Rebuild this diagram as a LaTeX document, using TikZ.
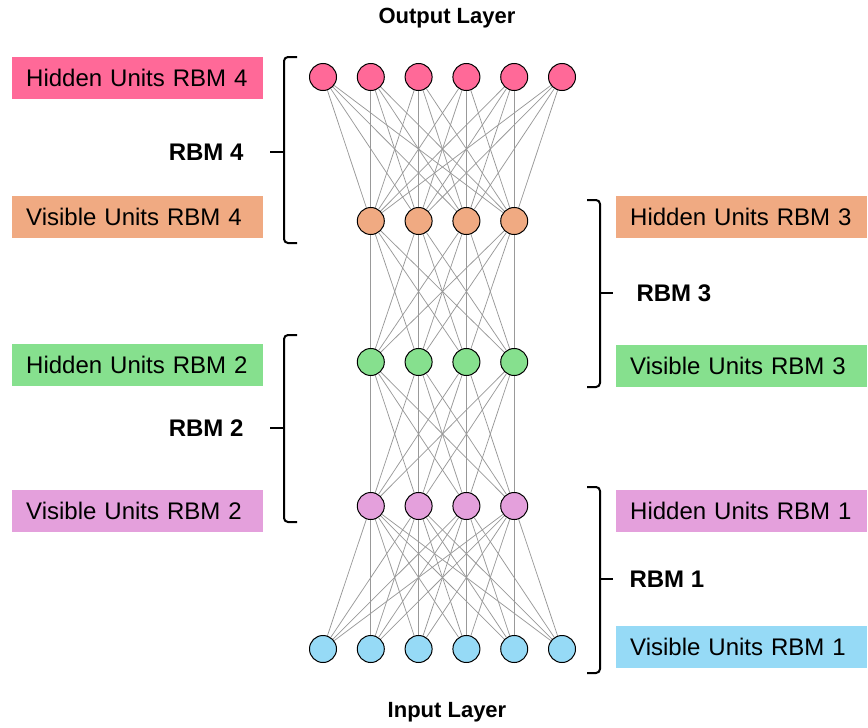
\documentclass[tikz,border=0pt]{standalone}
\usepackage{fontspec}
\setmainfont{Liberation Sans}
\usetikzlibrary{backgrounds}
\definecolor{rbmpink}{RGB}{255,105,152}
\definecolor{rbmsalmon}{RGB}{240,170,130}
\definecolor{rbmgreen}{RGB}{134,224,142}
\definecolor{rbmviolet}{RGB}{228,160,220}
\definecolor{rbmblue}{RGB}{150,218,246}
\tikzset{
  unit/.style={circle, draw=black, line width=1pt, minimum size=27pt, inner sep=0pt},
  link/.style={draw=gray!80, line width=0.75pt},
  tag/.style={rectangle, anchor=west, minimum height=42pt, text width=223pt,
    inner xsep=14pt, inner ysep=0pt, align=left, font=\fontsize{24}{28}\selectfont},
  rbmname/.style={font=\bfseries\fontsize{24}{28}\selectfont},
  layername/.style={font=\bfseries\fontsize{22}{26}\selectfont},
  brace/.style={line width=2pt, rounded corners=4pt}
}
\begin{document}
\begin{tikzpicture}[x=1pt,y=-1pt]
  \useasboundingbox (0,0) rectangle (868,728);
  \foreach \i in {1,...,6} {
    \node[unit, fill=rbmpink] (out-\i) at ({323+47.8*(\i-1)},77) {};
    \node[unit, fill=rbmblue] (in-\i) at ({323+47.8*(\i-1)},649) {};
  }
  \foreach \i in {1,...,4} {
    \node[unit, fill=rbmsalmon] (h3-\i) at ({370.8+47.8*(\i-1)},221) {};
    \node[unit, fill=rbmgreen] (h2-\i) at ({370.8+47.8*(\i-1)},362) {};
    \node[unit, fill=rbmviolet] (h1-\i) at ({370.8+47.8*(\i-1)},506) {};
  }
  \begin{scope}[on background layer]
    \foreach \i in {1,...,6}
      \foreach \j in {1,...,4} {
        \draw[link] (out-\i) -- (h3-\j);
        \draw[link] (in-\i) -- (h1-\j);
      }
    \foreach \i in {1,...,4}
      \foreach \j in {1,...,4} {
        \draw[link] (h3-\i) -- (h2-\j);
        \draw[link] (h2-\i) -- (h1-\j);
      }
  \end{scope}

  \node[layername] (outtitle) at (447,18) {Output Layer};
  \node[layername] (intitle) at (447,712) {Input Layer};

  \node[tag, fill=rbmpink] (hid4) at (12,78) {Hidden Units RBM 4};
  \node[tag, fill=rbmsalmon] (vis4) at (12,217) {Visible Units RBM 4};
  \node[tag, fill=rbmgreen] (hid2) at (12,364.5) {Hidden Units RBM 2};
  \node[tag, fill=rbmviolet] (vis2) at (12,511) {Visible Units RBM 2};
  \node[tag, fill=rbmsalmon] (hid3) at (616,217) {Hidden Units RBM 3};
  \node[tag, fill=rbmgreen] (vis3) at (616,365.5) {Visible Units RBM 3};
  \node[tag, fill=rbmviolet] (hid1) at (616,510.5) {Hidden Units RBM 1};
  \node[tag, fill=rbmblue] (vis1) at (616,646.5) {Visible Units RBM 1};

  \draw[brace] (297,57) -| (284,243) -- (297,243);
  \draw[line width=2pt] (284,152) -- (270,152);
  \node[rbmname, anchor=east] (rbm4) at (247,152) {RBM 4};
  \draw[brace] (297,335) -| (284,522) -- (297,522);
  \draw[line width=2pt] (284,428) -- (270,428);
  \node[rbmname, anchor=east] (rbm2) at (247,428) {RBM 2};
  \draw[brace] (587,200) -| (600,387) -- (587,387);
  \draw[line width=2pt] (600,293) -- (613,293);
  \node[rbmname, anchor=west] (rbm3) at (633,293) {RBM 3};
  \draw[brace] (587,487) -| (600,673) -- (587,673);
  \draw[line width=2pt] (600,579) -- (613,579);
  \node[rbmname, anchor=west] (rbm1) at (626,579) {RBM 1};
\end{tikzpicture}
\end{document}
